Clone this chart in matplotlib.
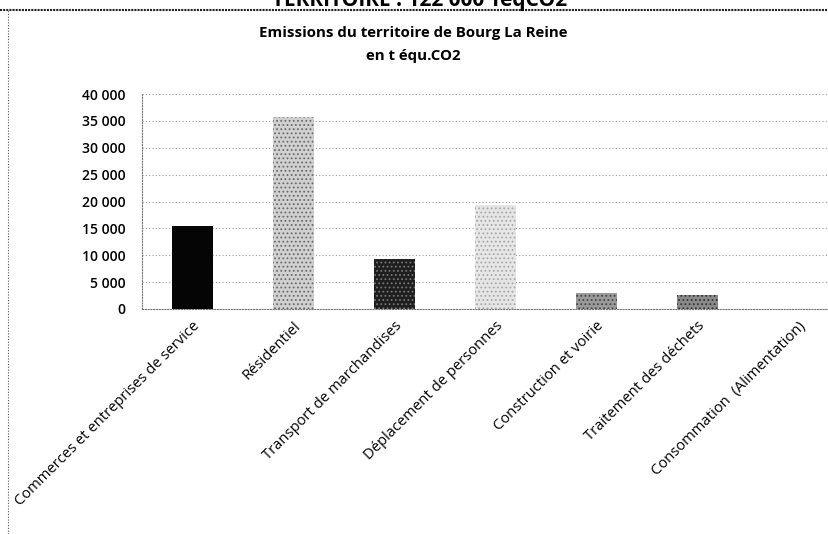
import matplotlib.pyplot as plt
from matplotlib.ticker import FuncFormatter

plt.rcParams['font.family'] = ['Open Sans', 'DejaVu Sans']
plt.rcParams['hatch.linewidth'] = 0.8

categories = ['Commerces et entreprises de service', 'Résidentiel',
              'Transport de marchandises', 'Déplacement de personnes',
              'Construction et voirie', 'Traitement des déchets',
              'Consommation  (Alimentation)']
emissions = [15500, 35700, 9300, 19300, 2900, 2600, 0]
yticks = [0, 5000, 10000, 15000, 20000, 25000, 30000, 35000, 40000]

bar_colors = ['#050505', '#d0d0d0', '#1e1e1e', '#e6e6e6', '#9a9a9a', '#8a8a8a', '#bbbbbb']
bar_hatch = ['', '....', '....', '....', '....', '....', '']
hatch_colors = ['#050505', '#6a6a6a', '#777777', '#a8a8a8', '#444444', '#333333', '#bbbbbb']

W, H = 829, 534
fig = plt.figure(figsize=(W / 100, H / 100), dpi=100, facecolor='white')

# plot area (right side runs off the page, as in the scan)
ax = fig.add_axes([142 / W, (H - 309) / H, 707 / W, 215 / H])
x = list(range(len(categories)))
for i in x:
    ax.bar(i, emissions[i], width=0.4, color=bar_colors[i], hatch=bar_hatch[i],
           edgecolor=hatch_colors[i], linewidth=0, zorder=3)

ax.set_xlim(-0.5, len(categories) - 0.5)
ax.set_ylim(0, 40000)
ax.set_yticks(yticks)
ax.yaxis.set_major_formatter(FuncFormatter(lambda v, p: f'{int(v):,}'.replace(',', ' ')))
ax.grid(axis='y', color='#9a9a9a', linestyle=(0, (1, 2)), linewidth=0.8, zorder=0)
for s in ['top', 'right']:
    ax.spines[s].set_visible(False)
for s in ['left', 'bottom']:
    ax.spines[s].set_color('#777777')
    ax.spines[s].set_linestyle((0, (1, 1.5)))
    ax.spines[s].set_linewidth(0.8)
ax.tick_params(axis='y', length=0, pad=12, labelsize=10)
ax.tick_params(axis='x', length=0, pad=7, labelsize=10.6)
for lab in ax.get_yticklabels():
    lab.set_fontweight('semibold')
ax.set_xticks(x)
ax.set_xticklabels(categories, rotation=45, ha='right', va='top', rotation_mode='anchor')

# titles
fig.text(413 / W, 1 - 33 / H, 'Emissions du territoire de Bourg La Reine',
         ha='center', va='center', fontsize=10.8, fontweight='bold')
fig.text(413 / W, 1 - 56 / H, 'en t équ.CO2', ha='center', va='center',
         fontsize=10.8, fontweight='bold')

# page heading cut off at the top of the scan
fig.text(420 / W, 1 - 6 / H, 'TERRITOIRE : 122 000 TeqCO2', ha='center', va='baseline',
         fontsize=15, fontweight='bold')
fig.add_artist(plt.Line2D([0, 1], [1 - 10 / H, 1 - 10 / H], color='#222222',
                          linewidth=1.5, linestyle=(0, (1, 0.5))))
fig.add_artist(plt.Line2D([8 / W, 8 / W], [0, 1 - 10 / H], color='#555555',
                          linewidth=0.8, linestyle=(0, (1, 1.5))))

fig.savefig('out.png', dpi=100, facecolor='white')
